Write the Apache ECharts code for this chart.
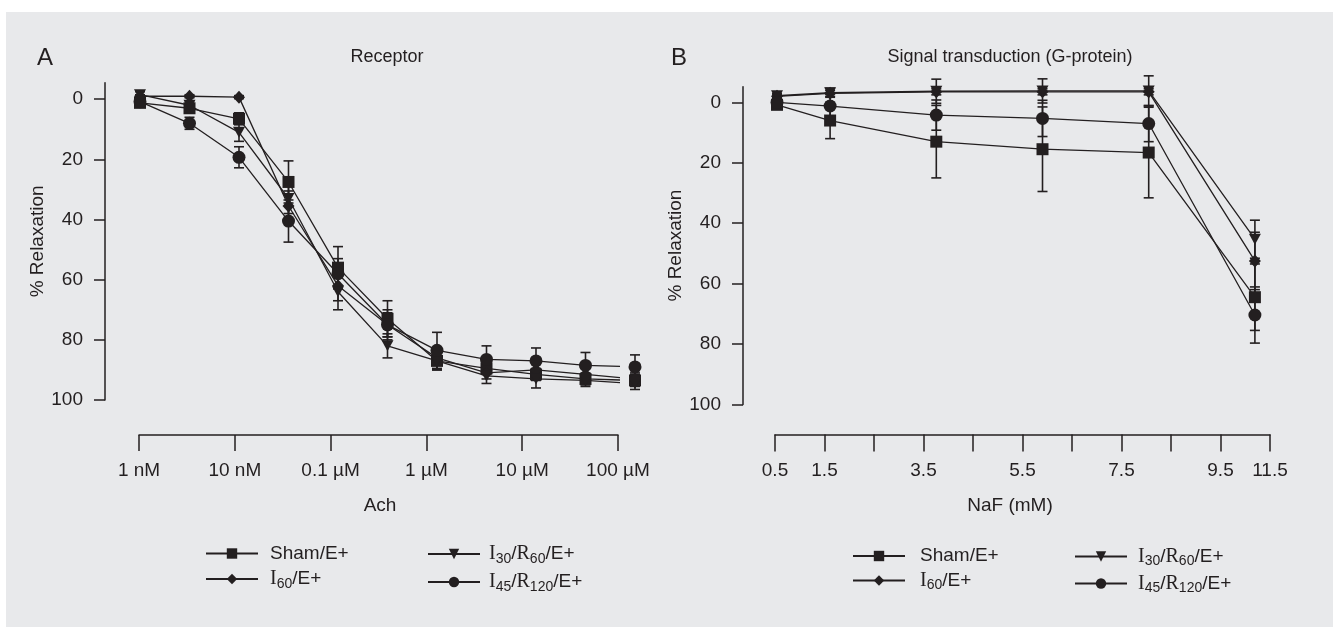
<!DOCTYPE html>
<html><head><meta charset="utf-8">
<script src="https://cdn.jsdelivr.net/npm/echarts@6/dist/echarts.min.js"></script>
<style>html,body{margin:0;padding:0;background:#fff}#c{width:1333px;height:627px}</style>
</head><body><div id="c"></div>
<script>
// ---------- Panel A: Receptor (x = log10 of Ach molar concentration) ----------
const achLogConc = [-9, -8.5, -8, -7.5, -7, -6.5, -6, -5.5, -5, -4.5, -4];
const achTickLabels = ['1 nM', '10 nM', '0.1 µM', '1 µM', '10 µM', '100 µM'];
const shamA    = [1.2, 3, 6.5, 27.5, 56, 73, 87, 89.5, 91.5, 93, 93.5];
const shamAErr = [1, 1.5, 2, 7, 7, 6, 3, 2, 2, 2, 2];
const i60A     = [-1, -1, -0.7, 35.5, 62, 75, 86, 91, 90, 91.5, 93];
const i60AErr  = [0.5, 0.5, 0.5, 5, 5, 4, 2, 2, 2, 2, 2];
const i30A     = [-1.5, 2, 11, 33, 64, 82, 87, 92, 93, 93.5, 94.5];
const i30AErr  = [1, 1.5, 3, 5, 6, 4, 3, 2.5, 3, 2, 2];
const i45A     = [0.8, 8, 19.3, 40.5, 58, 75, 83.5, 86.5, 87, 88.5, 89];
const i45AErr  = [1, 2, 3.5, 7, 5, 5, 6, 4.5, 4.3, 4.3, 4];

// ---------- Panel B: Signal transduction (x = NaF mM) ----------
const nafConc = [0.5, 1.5, 3.5, 5.5, 7.5, 9.5];
const nafTickLabels = ['0.5', '1.5', '', '3.5', '', '5.5', '', '7.5', '', '9.5', '11.5'];
const shamB    = [0.8, 6, 13, 15.5, 16.6, 64.5];
const shamBErr = [1, 6, 12, 14, 15, 11];
const i60B     = [-2, -3, -3.5, -3.5, -3.5, 52.5];
const i60BErr  = [0.5, 1, 1, 1, 1, 9.5];
const i30B     = [-2.2, -3.2, -3.7, -3.8, -3.8, 45.3];
const i30BErr  = [0.8, 1.5, 4, 4, 5, 6.3];
const i45B     = [0, 1.2, 4.2, 5.3, 7, 70.4];
const i45BErr  = [1, 4, 5, 6, 6, 9.3];

const yTicks = [0, 20, 40, 60, 80, 100];
const seriesNames = ['Sham/E+', 'I60/E+', 'I30/R60/E+', 'I45/R120/E+'];

const ink = '#231f20';
const sans = 'Liberation Sans, Arial, sans-serif';
const serif = 'Liberation Serif, Times New Roman, serif';
const symbols = {
  'Sham/E+': {symbol: 'rect', size: 12},
  'I60/E+': {symbol: 'diamond', size: [12, 13]},
  'I30/R60/E+': {symbol: 'path://M0,0L10,0L5,9Z', size: [12, 11]},
  'I45/R120/E+': {symbol: 'circle', size: 13}
};
const richNames = {
  'Sham/E+': '{n|Sham/E+}',
  'I60/E+': '{r|I}{s|60}{n|/E+}',
  'I30/R60/E+': '{r|I}{s|30}{n|/}{r|R}{s|60}{n|/E+}',
  'I45/R120/E+': '{r|I}{s|45}{n|/}{r|R}{s|120}{n|/E+}'
};

function lineSeries(name, xs, ys, xi, yi) {
  return {
    type: 'line', name, xAxisIndex: xi, yAxisIndex: yi,
    data: xs.map((x, i) => [x, ys[i]]),
    symbol: symbols[name].symbol, symbolSize: symbols[name].size,
    showAllSymbol: true, clip: false, z: 3,
    lineStyle: {color: ink, width: 1.3}, itemStyle: {color: ink, opacity: 1},
    emphasis: {disabled: true}, animation: false
  };
}
function errRender(params, api) {
  const x = api.value(0), lo = api.value(1), hi = api.value(2);
  const p1 = api.coord([x, lo]), p2 = api.coord([x, hi]);
  const w = 5, st = {stroke: ink, lineWidth: 1.6};
  return {type: 'group', children: [
    {type: 'line', shape: {x1: p1[0], y1: p1[1], x2: p2[0], y2: p2[1]}, style: st},
    {type: 'line', shape: {x1: p1[0] - w, y1: p1[1], x2: p1[0] + w, y2: p1[1]}, style: st},
    {type: 'line', shape: {x1: p2[0] - w, y1: p2[1], x2: p2[0] + w, y2: p2[1]}, style: st}
  ]};
}
function errSeries(name, xs, ys, es, xi, yi) {
  return {
    type: 'custom', name: name + ' SEM', xAxisIndex: xi, yAxisIndex: yi,
    data: xs.map((x, i) => [x, ys[i] - es[i], ys[i] + es[i]]),
    encode: {x: 0, y: [1, 2]}, renderItem: errRender, clip: false, z: 2,
    animation: false, silent: true
  };
}

const legendText = {
  color: ink,
  rich: {
    n: {fontFamily: sans, fontSize: 19, lineHeight: 24, color: ink},
    r: {fontFamily: serif, fontSize: 20, lineHeight: 24, color: ink},
    s: {fontFamily: sans, fontSize: 14, verticalAlign: 'bottom', color: ink}
  }
};
function legend(names, left, top, gap, padLeft) {
  return {
    orient: 'vertical', left, top, padding: 0, itemGap: gap,
    itemWidth: 52, itemHeight: 13, selectedMode: false,
    data: names, formatter: n => richNames[n],
    textStyle: Object.assign({padding: [0, 0, 0, padLeft]}, legendText)
  };
}

const axisLine = {show: true, onZero: false, lineStyle: {color: ink, width: 1.5}};
const tickStyle = {lineStyle: {color: ink, width: 1.5}};
function yAxis(min, offset, gap) {
  return {
    type: 'value', inverse: true, min, max: 100, offset,
    name: '% Relaxation', nameLocation: 'middle', nameGap: gap,
    nameTextStyle: {fontFamily: sans, fontSize: 19, color: ink},
    axisLine, splitLine: {show: false},
    axisTick: Object.assign({show: true, length: 11, customValues: yTicks}, tickStyle),
    axisLabel: {customValues: yTicks, margin: 22, fontFamily: sans, fontSize: 19, color: ink}
  };
}

const option = {
  backgroundColor: '#ffffff',
  animation: false,
  graphic: [
    {type: 'rect', z: -100, shape: {x: 6, y: 12, width: 1327, height: 615}, style: {fill: '#e8e9eb'}},
    {type: 'text', x: 45, y: 58, style: {text: 'A', font: '24px ' + sans, fill: ink, textAlign: 'center', textVerticalAlign: 'middle'}},
    {type: 'text', x: 679, y: 58, style: {text: 'B', font: '24px ' + sans, fill: ink, textAlign: 'center', textVerticalAlign: 'middle'}},
    {type: 'text', x: 387, y: 57, style: {text: 'Receptor', font: '18px ' + sans, fill: ink, textAlign: 'center', textVerticalAlign: 'middle'}},
    {type: 'text', x: 1010, y: 57, style: {text: 'Signal transduction (G-protein)', font: '18px ' + sans, fill: ink, textAlign: 'center', textVerticalAlign: 'middle'}},
    {type: 'text', x: 380, y: 506, style: {text: 'Ach', font: '19px ' + sans, fill: ink, textAlign: 'center', textVerticalAlign: 'middle'}},
    {type: 'text', x: 1010, y: 506, style: {text: 'NaF (mM)', font: '19px ' + sans, fill: ink, textAlign: 'center', textVerticalAlign: 'middle'}}
  ],
  grid: [
    {left: 139, top: 82.7, width: 479, height: 317.3, outerBoundsMode: 'none', containLabel: false},
    {left: 775, top: 86.7, width: 495, height: 317.7, outerBoundsMode: 'none', containLabel: false}
  ],
  xAxis: [
    { // A visible tick axis
      type: 'value', gridIndex: 0, min: -9, max: -4, interval: 1, position: 'bottom', offset: 35,
      axisLine, splitLine: {show: false},
      axisTick: Object.assign({show: true, length: 16}, tickStyle),
      axisLabel: {margin: 26, fontFamily: sans, fontSize: 19, color: ink,
        formatter: v => achTickLabels[Math.round(v + 9)]}
    },
    { // A data axis (hidden)
      type: 'value', gridIndex: 0, min: -9.0101, max: -4.1717, show: false
    },
    { // B visible tick axis
      type: 'value', gridIndex: 1, min: 0, max: 10, interval: 1, position: 'bottom', offset: 30,
      axisLine, splitLine: {show: false},
      axisTick: Object.assign({show: true, length: 17}, tickStyle),
      axisLabel: {margin: 27, fontFamily: sans, fontSize: 19, color: ink,
        formatter: v => nafTickLabels[Math.round(v)]}
    },
    { // B data axis (hidden)
      type: 'value', gridIndex: 1, min: 0.4623, max: 9.7843, show: false
    }
  ],
  yAxis: [
    Object.assign({gridIndex: 0}, yAxis(-5.5, 34, 43)),
    Object.assign({gridIndex: 1}, yAxis(-5.2, 32, 41))
  ],
  legend: [
    legend(['Sham/E+', 'I60/E+'], 205, 544, 6, 7),
    legend(['I30/R60/E+', 'I45/R120/E+'], 427, 544, 6, 4),
    legend(['Sham/E+', 'I60/E+'], 852, 546.5, 5, 10),
    legend(['I30/R60/E+', 'I45/R120/E+'], 1074, 546.5, 5, 6)
  ],
  series: [
    errSeries('Sham/E+', achLogConc, shamA, shamAErr, 1, 0),
    errSeries('I60/E+', achLogConc, i60A, i60AErr, 1, 0),
    errSeries('I30/R60/E+', achLogConc, i30A, i30AErr, 1, 0),
    errSeries('I45/R120/E+', achLogConc, i45A, i45AErr, 1, 0),
    lineSeries('Sham/E+', achLogConc, shamA, 1, 0),
    lineSeries('I60/E+', achLogConc, i60A, 1, 0),
    lineSeries('I30/R60/E+', achLogConc, i30A, 1, 0),
    lineSeries('I45/R120/E+', achLogConc, i45A, 1, 0),
    errSeries('Sham/E+', nafConc, shamB, shamBErr, 3, 1),
    errSeries('I60/E+', nafConc, i60B, i60BErr, 3, 1),
    errSeries('I30/R60/E+', nafConc, i30B, i30BErr, 3, 1),
    errSeries('I45/R120/E+', nafConc, i45B, i45BErr, 3, 1),
    lineSeries('Sham/E+', nafConc, shamB, 3, 1),
    lineSeries('I60/E+', nafConc, i60B, 3, 1),
    lineSeries('I30/R60/E+', nafConc, i30B, 3, 1),
    lineSeries('I45/R120/E+', nafConc, i45B, 3, 1)
  ]
};
const chart = echarts.init(document.getElementById('c'), null, {renderer: 'canvas'});
chart.setOption(option);
</script>
</body></html>
